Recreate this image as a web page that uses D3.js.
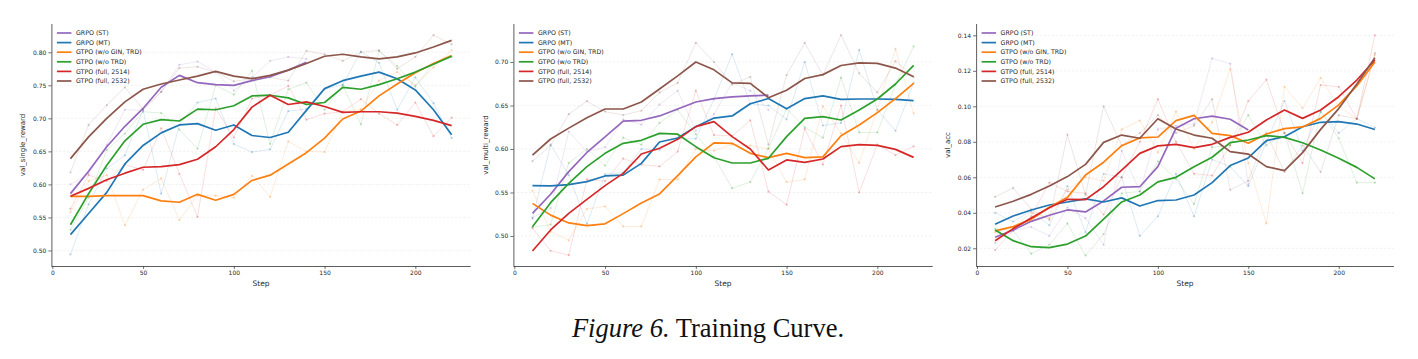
<!DOCTYPE html>
<html><head><meta charset="utf-8">
<script src="https://cdn.jsdelivr.net/npm/d3@7"></script>
<style>
html,body{margin:0;padding:0;background:#fff;}
svg{display:block;}
</style></head>
<body>
<svg id="chart" width="1418" height="359"></svg>
<script>
// ---------- data ----------
const steps = [10,20,30,40,50,60,70,80,90,100,110,120,130,140,150,160,170,180,190,200,210,220];
const seriesNames = ["GRPO (ST)","GRPO (MT)","GTPO (w/o GIN, TRD)","GTPO (w/o TRD)","GTPO (full, 2514)","GTPO (full, 2532)"];
const seriesColors = ["#9467bd","#1f77b4","#ff7f0e","#2ca02c","#d62728","#8c564b"];
const xTicks = [0,50,100,150,200];

// Panel 1: val_single_reward (smoothed)
const single_ST  = [0.586,0.620,0.657,0.688,0.715,0.747,0.765,0.754,0.751,0.750,0.757,0.763,0.773,0.785];
const single_MT  = [0.524,0.556,0.588,0.631,0.659,0.678,0.690,0.692,0.682,0.690,0.674,0.671,0.679,0.712,0.745,0.757,0.764,0.770,0.760,0.743,0.713,0.675];
const single_noGT= [0.582,0.582,0.583,0.583,0.583,0.575,0.573,0.585,0.576,0.585,0.606,0.614,0.631,0.648,0.670,0.699,0.711,0.734,0.752,0.769,0.783,0.795];
const single_noT = [0.539,0.586,0.629,0.666,0.691,0.698,0.696,0.714,0.713,0.719,0.734,0.735,0.731,0.721,0.724,0.747,0.744,0.751,0.760,0.770,0.782,0.794];
const single_F14 = [0.582,0.594,0.607,0.617,0.626,0.627,0.630,0.638,0.657,0.683,0.717,0.735,0.721,0.725,0.718,0.709,0.710,0.710,0.708,0.703,0.697,0.689];
const single_F32 = [0.639,0.672,0.700,0.725,0.744,0.752,0.758,0.764,0.771,0.764,0.760,0.765,0.773,0.783,0.794,0.797,0.793,0.790,0.793,0.799,0.808,0.818];
// Panel 1 raw
const singleRaw_ST  = [0.600,0.616,0.660,0.713,0.712,0.740,0.781,0.786,0.770,0.742,0.762,0.787,0.793,0.790];
const singleRaw_MT  = [0.494,0.570,0.624,0.644,0.713,0.586,0.690,0.724,0.730,0.661,0.649,0.653,0.711,0.714,0.744,0.751,0.801,0.784,0.713,0.762,0.723,0.670];
const singleRaw_noGT= [0.558,0.605,0.614,0.538,0.592,0.609,0.546,0.583,0.583,0.580,0.613,0.581,0.665,0.650,0.649,0.710,0.714,0.757,0.770,0.750,0.777,0.803];
const singleRaw_noT = [0.531,0.580,0.652,0.677,0.710,0.708,0.683,0.654,0.750,0.736,0.772,0.661,0.744,0.754,0.713,0.750,0.691,0.802,0.779,0.748,0.783,0.793];
const singleRaw_F14 = [0.563,0.614,0.605,0.630,0.622,0.685,0.616,0.551,0.715,0.671,0.730,0.735,0.749,0.698,0.707,0.710,0.729,0.707,0.690,0.724,0.673,0.701];
const singleRaw_F32 = [0.618,0.690,0.720,0.747,0.714,0.740,0.776,0.778,0.770,0.756,0.760,0.762,0.757,0.802,0.797,0.787,0.800,0.803,0.775,0.793,0.826,0.812];

// Panel 2: val_multi_reward (smoothed)
const multi_ST  = [0.526,0.548,0.574,0.596,0.614,0.632,0.633,0.638,0.646,0.654,0.658,0.660,0.661,0.662];
const multi_MT  = [0.558,0.5575,0.559,0.5625,0.569,0.570,0.5835,0.608,0.6126,0.6257,0.6356,0.638,0.652,0.658,0.6464,0.658,0.661,0.657,0.6575,0.6575,0.657,0.6556];
const multi_noGT= [0.5375,0.524,0.515,0.512,0.514,0.5257,0.538,0.5483,0.5693,0.591,0.607,0.6065,0.595,0.590,0.595,0.590,0.591,0.6153,0.6276,0.6418,0.658,0.6755];
const multi_noT = [0.5107,0.5383,0.5605,0.5797,0.595,0.6065,0.610,0.618,0.617,0.6027,0.590,0.5839,0.5839,0.5893,0.6142,0.6352,0.6372,0.6333,0.6448,0.6575,0.6747,0.6962];
const multi_F14 = [0.4828,0.5069,0.526,0.5421,0.5579,0.572,0.5943,0.6008,0.6111,0.6257,0.6314,0.6142,0.600,0.5759,0.5874,0.5847,0.5885,0.6027,0.605,0.6042,0.5996,0.5904];
const multi_F32 = [0.593,0.6115,0.624,0.636,0.646,0.646,0.654,0.669,0.684,0.700,0.691,0.676,0.6755,0.659,0.6675,0.681,0.6855,0.696,0.699,0.6985,0.693,0.683];
// Panel 2 raw
const multiRaw_ST  = [0.521,0.532,0.620,0.597,0.602,0.634,0.628,0.651,0.667,0.621,0.640,0.676,0.667,0.645];
const multiRaw_MT  = [0.520,0.605,0.570,0.514,0.571,0.573,0.600,0.599,0.612,0.612,0.657,0.709,0.652,0.650,0.634,0.700,0.627,0.630,0.714,0.645,0.621,0.676];
const multiRaw_noGT= [0.552,0.505,0.495,0.531,0.534,0.511,0.511,0.565,0.565,0.600,0.598,0.605,0.604,0.600,0.562,0.565,0.649,0.618,0.584,0.645,0.715,0.641];
const multiRaw_noT = [0.510,0.513,0.584,0.600,0.581,0.613,0.605,0.630,0.645,0.617,0.591,0.555,0.562,0.601,0.646,0.625,0.613,0.682,0.619,0.619,0.674,0.718];
const multiRaw_F14 = [0.509,0.483,0.478,0.565,0.563,0.589,0.582,0.580,0.597,0.667,0.616,0.615,0.633,0.551,0.536,0.623,0.582,0.650,0.550,0.605,0.593,0.603];
const multiRaw_F32 = [0.586,0.604,0.640,0.655,0.643,0.639,0.644,0.665,0.676,0.722,0.700,0.674,0.683,0.605,0.685,0.722,0.685,0.731,0.687,0.665,0.701,0.683];

// Panel 3: val_acc (smoothed)
const acc_ST  = [0.0262,0.0303,0.0352,0.0386,0.0416,0.0405,0.0467,0.0544,0.0547,0.066,0.0876,0.093,0.0945,0.0927,0.0867];
const acc_MT  = [0.0335,0.0382,0.0416,0.0444,0.0461,0.0478,0.0461,0.0484,0.0438,0.0469,0.0472,0.050,0.057,0.0666,0.0709,0.0807,0.0829,0.0885,0.091,0.0914,0.090,0.0869];
const acc_noGT= [0.0298,0.0322,0.0363,0.0431,0.0487,0.0613,0.0685,0.0778,0.0822,0.0827,0.0919,0.0949,0.0848,0.0835,0.0792,0.0844,0.0874,0.0884,0.0932,0.1008,0.1115,0.125];
const acc_noT = [0.0303,0.0243,0.0209,0.0204,0.0224,0.0269,0.0365,0.0461,0.050,0.0574,0.060,0.066,0.0713,0.0795,0.081,0.0835,0.0825,0.0795,0.0754,0.0707,0.0656,0.0591];
const acc_F14 = [0.0243,0.0311,0.0371,0.0429,0.0476,0.0474,0.0547,0.0641,0.0735,0.0777,0.0786,0.0767,0.0786,0.0825,0.0854,0.0923,0.0979,0.0932,0.0979,0.1054,0.1148,0.1261];
const acc_F32 = [0.0433,0.0465,0.0504,0.0551,0.0604,0.0673,0.0797,0.0838,0.082,0.093,0.0872,0.0838,0.082,0.0745,0.0731,0.066,0.0638,0.0739,0.087,0.0987,0.1126,0.1274];
// Panel 3 raw
const accRaw_ST  = [0.023,0.030,0.032,0.027,0.043,0.037,0.022,0.075,0.052,0.087,0.089,0.090,0.127,0.124,0.056];
const accRaw_MT  = [0.040,0.035,0.041,0.033,0.055,0.029,0.062,0.060,0.027,0.038,0.062,0.038,0.070,0.066,0.055,0.080,0.103,0.075,0.097,0.085,0.093,0.088];
const accRaw_noGT= [0.029,0.032,0.040,0.037,0.053,0.060,0.058,0.087,0.092,0.074,0.097,0.076,0.091,0.121,0.068,0.034,0.111,0.099,0.116,0.100,0.093,0.129];
const accRaw_noT = [0.031,0.030,0.017,0.022,0.034,0.016,0.028,0.051,0.052,0.069,0.059,0.045,0.077,0.078,0.095,0.078,0.085,0.051,0.097,0.082,0.057,0.057];
const accRaw_F14 = [0.019,0.030,0.038,0.057,0.052,0.051,0.039,0.060,0.080,0.104,0.080,0.062,0.061,0.078,0.103,0.115,0.085,0.068,0.112,0.111,0.093,0.140];
const accRaw_F32 = [0.049,0.054,0.042,0.036,0.084,0.050,0.100,0.078,0.085,0.095,0.085,0.089,0.104,0.053,0.058,0.085,0.063,0.078,0.063,0.095,0.093,0.130];

const singleTicks = [0.50,0.55,0.60,0.65,0.70,0.75,0.80];
const multiTicks = [0.50,0.55,0.60,0.65,0.70];
const accTicks = [0.02,0.04,0.06,0.08,0.10,0.12,0.14];

// ---------- layout ----------
const panels = [
  {ylabel:"val_single_reward", smooth:[single_ST,single_MT,single_noGT,single_noT,single_F14,single_F32],
   raw:[singleRaw_ST,singleRaw_MT,singleRaw_noGT,singleRaw_noT,singleRaw_F14,singleRaw_F32],
   yTicks:singleTicks, fmt:".2f", x0:51.4, x1:470.7, yDom:[0.4765,0.8428], ylabX:25},
  {ylabel:"val_multi_reward", smooth:[multi_ST,multi_MT,multi_noGT,multi_noT,multi_F14,multi_F32],
   raw:[multiRaw_ST,multiRaw_MT,multiRaw_noGT,multiRaw_noT,multiRaw_F14,multiRaw_F32],
   yTicks:multiTicks, fmt:".2f", x0:513.4, x1:932.7, yDom:[0.4655,0.7437], ylabX:488},
  {ylabel:"val_acc", smooth:[acc_ST,acc_MT,acc_noGT,acc_noT,acc_F14,acc_F32],
   raw:[accRaw_ST,accRaw_MT,accRaw_noGT,accRaw_noT,accRaw_F14,accRaw_F32],
   yTicks:accTicks, fmt:".2f", x0:976.1, x1:1393.9, yDom:[0.01003,0.14637], ylabX:950}
];
const topY = 24, bottomY = 266;
const svg = d3.select("#chart");
const fontSans = "DejaVu Sans, sans-serif";
const textCol = "#262626";

panels.forEach(p => {
  const x = d3.scaleLinear().domain([-0.5,230.5]).range([p.x0,p.x1]);
  const y = d3.scaleLinear().domain(p.yDom).range([bottomY,topY]);
  const g = svg.append("g");

  // grid
  g.selectAll("line.grid").data(p.yTicks).enter().append("line")
    .attr("x1",p.x0).attr("x2",p.x1)
    .attr("y1",d=>y(d)).attr("y2",d=>y(d))
    .attr("stroke","#e6e6e6").attr("stroke-width",0.6).attr("stroke-dasharray","2,2");

  // raw lines
  p.raw.forEach((arr,i) => {
    const pts = arr.map((v,j)=>[steps[j],v]);
    g.append("path").datum(pts)
      .attr("d", d3.line().x(d=>x(d[0])).y(d=>y(d[1])))
      .attr("fill","none").attr("stroke",seriesColors[i]).attr("stroke-width",0.7).attr("stroke-opacity",0.22);
    g.selectAll(null).data(pts).enter().append("circle")
      .attr("cx",d=>x(d[0])).attr("cy",d=>y(d[1])).attr("r",1.1)
      .attr("fill",seriesColors[i]).attr("fill-opacity",0.3);
  });
  // smoothed lines
  p.smooth.forEach((arr,i) => {
    const pts = arr.map((v,j)=>[steps[j],v]);
    g.append("path").datum(pts)
      .attr("d", d3.line().x(d=>x(d[0])).y(d=>y(d[1])))
      .attr("fill","none").attr("stroke",seriesColors[i]).attr("stroke-width",1.7)
      .attr("stroke-linejoin","round");
  });

  // axes
  const xAxis = d3.axisBottom(x).tickValues(xTicks).tickSize(3).tickPadding(2).tickFormat(d3.format("d"));
  const yAxis = d3.axisLeft(y).tickValues(p.yTicks).tickSize(3).tickPadding(2).tickFormat(d3.format(p.fmt));
  const gx = g.append("g").attr("transform",`translate(0,${bottomY})`).call(xAxis);
  const gy = g.append("g").attr("transform",`translate(${p.x0},0)`).call(yAxis);
  [gx,gy].forEach(a => {
    a.select(".domain").attr("stroke","#333").attr("stroke-width",0.8);
    a.selectAll(".tick line").attr("stroke","#333").attr("stroke-width",0.7);
    a.selectAll(".tick text").attr("fill",textCol).style("font-family",fontSans).style("font-size","6px");
  });
  gx.select(".domain").attr("d",`M${p.x0},0.5H${p.x1}`);
  gy.select(".domain").attr("d",`M0.5,${topY}V${bottomY}`);

  // axis labels
  g.append("text").attr("x",(p.x0+p.x1)/2).attr("y",286)
    .attr("text-anchor","middle").attr("fill",textCol)
    .style("font-family",fontSans).style("font-size","7.5px").text("Step");
  g.append("text").attr("transform",`translate(${p.ylabX},${(topY+bottomY)/2}) rotate(-90)`)
    .attr("text-anchor","middle").attr("fill",textCol)
    .style("font-family",fontSans).style("font-size","7px").text(p.ylabel);

  // legend
  const lx = p.x0 + 5.5;
  seriesNames.forEach((n,i) => {
    const ly = 33 + i*9.6;
    g.append("line").attr("x1",lx).attr("x2",lx+14.5).attr("y1",ly).attr("y2",ly)
      .attr("stroke",seriesColors[i]).attr("stroke-width",1.7);
    g.append("text").attr("x",lx+19).attr("y",ly+2.2).attr("fill",textCol)
      .style("font-family",fontSans).style("font-size","6.3px").text(n);
  });
});

// caption
const cap = svg.append("text").attr("x",708).attr("y",337).attr("text-anchor","middle")
  .style("font-family","Liberation Serif, Times New Roman, serif").style("font-size","26.5px").attr("fill","#111");
cap.append("tspan").style("font-style","italic").text("Figure 6.");
cap.append("tspan").text(" Training Curve.");
</script>
</body></html>
